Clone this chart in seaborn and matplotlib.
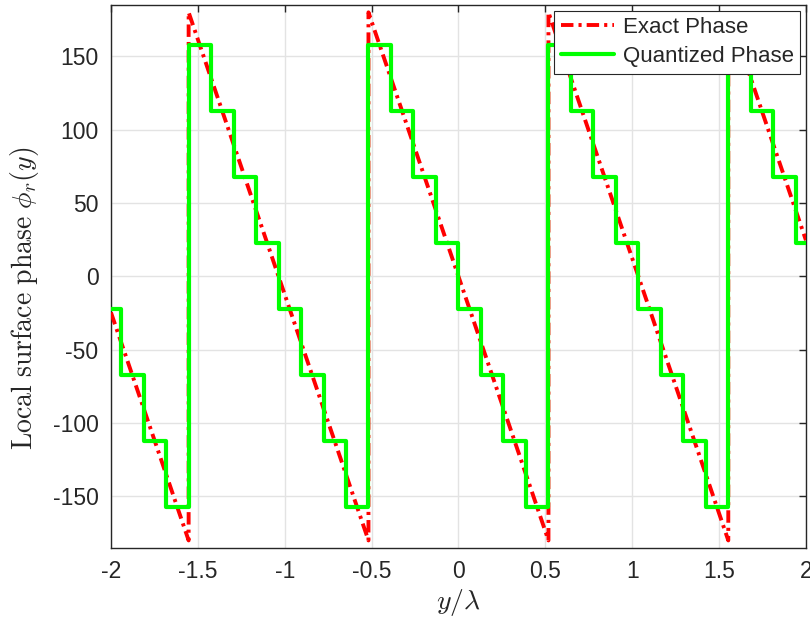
import matplotlib
matplotlib.use("Agg")
import matplotlib.pyplot as plt
import seaborn as sns
import pandas as pd
import numpy as np

# Exact phase vertices (piecewise-linear sawtooth)
exact_x = [-2.0, -1.553, -1.553, -0.518, -0.518, 0.518, 0.518, 1.553, 1.553, 2.0]
exact_y = [-24.6, -180.0, 180.0, -180.0, 180.0, -180.0, 180.0, -180.0, 180.0, 24.6]

# Quantized phase: segment start positions and levels (step function)
quant_x = [-2.0, -1.941, -1.812, -1.682, -1.553, -1.423, -1.294, -1.165,
           -1.035, -0.906, -0.776, -0.647, -0.518, -0.388, -0.259, -0.129,
           0.0, 0.129, 0.259, 0.388, 0.518, 0.647, 0.776, 0.906,
           1.035, 1.165, 1.294, 1.423, 1.553, 1.682, 1.812, 1.941, 2.0]
quant_y = [-22.5, -67.5, -112.5, -157.5, 157.5, 112.5, 67.5, 22.5,
           -22.5, -67.5, -112.5, -157.5, 157.5, 112.5, 67.5, 22.5,
           -22.5, -67.5, -112.5, -157.5, 157.5, 112.5, 67.5, 22.5,
           -22.5, -67.5, -112.5, -157.5, 157.5, 112.5, 67.5, 22.5, 22.5]

x_ticks = [-2, -1.5, -1, -0.5, 0, 0.5, 1, 1.5, 2]
x_ticklabels = ["-2", "-1.5", "-1", "-0.5", "0", "0.5", "1", "1.5", "2"]
y_ticks = [-150, -100, -50, 0, 50, 100, 150]
y_ticklabels = ["-150", "-100", "-50", "0", "50", "100", "150"]

sns.set_style("white")
plt.rcParams["font.family"] = ["Liberation Sans", "DejaVu Sans"]
plt.rcParams["mathtext.fontset"] = "cm"

fig = plt.figure(figsize=(8.10, 6.26), dpi=100)
ax = fig.add_axes([0.137, 0.125, 0.858, 0.867])

df_exact = pd.DataFrame({"x": exact_x, "y": exact_y})
df_quant = pd.DataFrame({"x": quant_x, "y": quant_y})

sns.lineplot(data=df_exact, x="x", y="y", ax=ax, estimator=None, sort=False,
             color=(1, 0, 0), linewidth=2.8, label="Exact Phase", zorder=3)
ax.lines[-1].set_dashes([3.2, 1.3, 0.8, 1.3])
sns.lineplot(data=df_quant, x="x", y="y", ax=ax, estimator=None, sort=False,
             color=(0, 1, 0), linewidth=3.0, drawstyle="steps-post",
             label="Quantized Phase", zorder=4)

ax.set_xlim(-2, 2)
ax.set_ylim(-185, 185)
ax.set_xticks(x_ticks)
ax.set_xticklabels(x_ticklabels)
ax.set_yticks(y_ticks)
ax.set_yticklabels(y_ticklabels)
ax.grid(True, color="#e3e3e3", linewidth=1.0)
ax.set_axisbelow(True)
ax.tick_params(direction="in", length=5, width=1.0, colors="#262626",
               labelsize=16.5, top=True, right=True, pad=9)
for s in ax.spines.values():
    s.set_color("#262626")
    s.set_linewidth(1.0)
    s.set_visible(True)

ax.set_xlabel(r"$y/\lambda$", fontsize=20, color="#262626", labelpad=3)
ax.set_ylabel(r"$\mathrm{Local\ surface\ phase}\ \phi_r(y)$", fontsize=20,
              color="#262626")
ax.yaxis.set_label_coords(-0.100, 0.46)

leg = ax.legend(loc="upper right", fontsize=16, frameon=True, fancybox=False,
                borderaxespad=0.25, handlelength=2.4, handletextpad=0.4,
                borderpad=0.3, labelspacing=0.35)
leg.get_frame().set_edgecolor("#262626")
leg.get_frame().set_linewidth(0.8)
leg.get_frame().set_alpha(1.0)

fig.savefig("out.png", dpi=100)
